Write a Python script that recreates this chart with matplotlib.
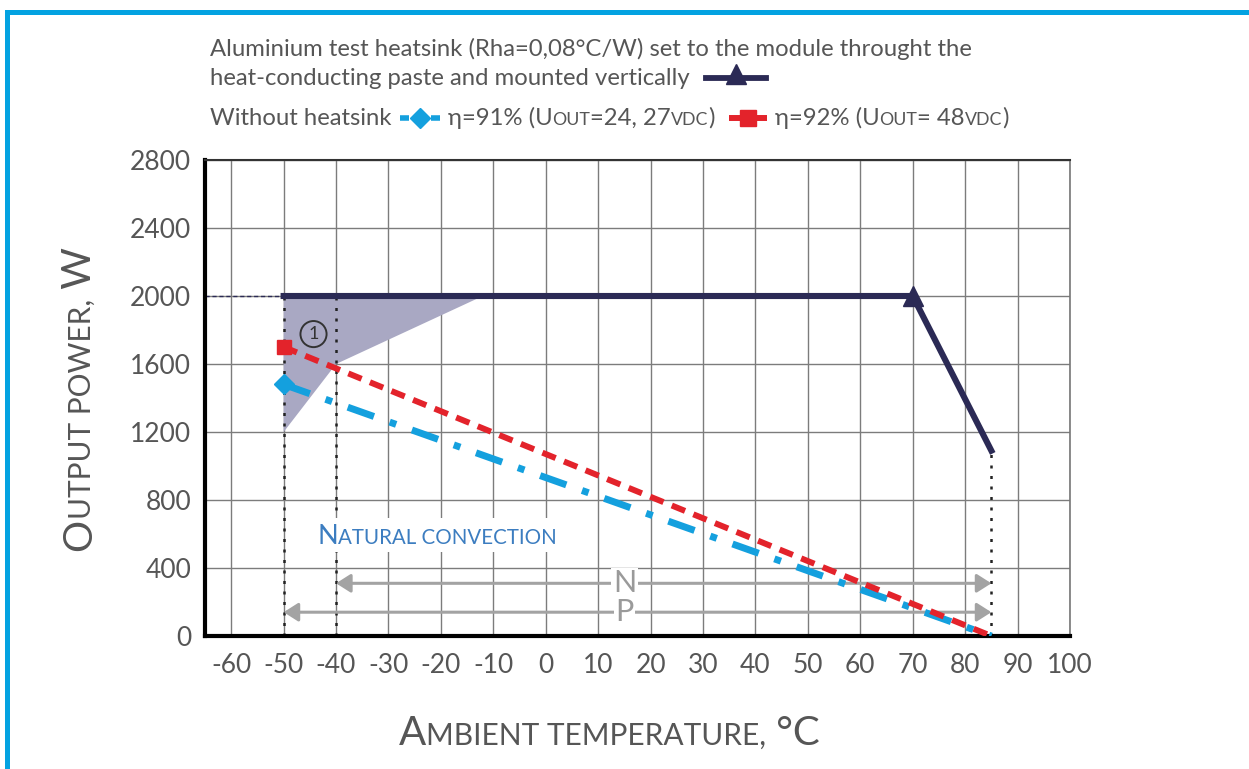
import matplotlib
matplotlib.use("Agg")
import matplotlib.pyplot as plt
from matplotlib.lines import Line2D
from matplotlib.patches import Polygon, Rectangle

# ---------------- data ----------------
temp_heatsink = [-50, 70, 85]
power_heatsink = [2000, 2000, 1090]
temp_eta91 = [-50, 85]
power_eta91 = [1480, 0]
temp_eta92 = [-50, 85]
power_eta92 = [1700, 0]
zone_temp = [-50, -12, -40, -50]
zone_power = [2000, 2000, 1600, 1200]
x_ticks = [-60, -50, -40, -30, -20, -10, 0, 10, 20, 30, 40, 50, 60, 70, 80, 90, 100]
x_tick_labels = ["-60", "-50", "-40", "-30", "-20", "-10", "0", "10", "20", "30",
                 "40", "50", "60", "70", "80", "90", "100"]
y_ticks = [0, 400, 800, 1200, 1600, 2000, 2400, 2800]
y_tick_labels = ["0", "400", "800", "1200", "1600", "2000", "2400", "2800"]
range_N = [-40, 85]
range_P = [-50, 85]
level_N = 310
level_P = 140

# ---------------- style ----------------
NAVY = "#2B2A55"
BLUE = "#14A0DE"
RED = "#E3232B"
SHADE = "#A9A8C3"
GRID = "#7C7C7C"
TXT = "#565656"
CONV = "#3C7DC0"
ARROW = "#A3A3A3"
FRAME = "#03A2E1"
FAM = ["Lato", "DejaVu Sans"]

W_PX, H_PX = 1249, 769
fig = plt.figure(figsize=(W_PX / 100, H_PX / 100), dpi=100)
fig.patch.set_facecolor("white")

# blue frame (top and left)
fig.add_artist(Rectangle((5 / W_PX, 1 - 15 / H_PX), 1, 5 / H_PX,
                         transform=fig.transFigure, color=FRAME, lw=0))
fig.add_artist(Rectangle((5 / W_PX, 0), 5 / W_PX, 1 - 10 / H_PX,
                         transform=fig.transFigure, color=FRAME, lw=0))

ax = fig.add_axes([205 / W_PX, 1 - 636 / H_PX, 865 / W_PX, 476 / H_PX])
ax.set_xlim(-65, 100)
ax.set_ylim(0, 2800)
ax.set_xticks(x_ticks)
ax.set_xticklabels(x_tick_labels)
ax.set_yticks(y_ticks)
ax.set_yticklabels(y_tick_labels)
ax.tick_params(length=0, labelsize=19, colors=TXT)
ax.tick_params(axis="y", pad=10)
ax.tick_params(axis="x", pad=12)
for lab in ax.get_xticklabels() + ax.get_yticklabels():
    lab.set_family(FAM)
ax.grid(True, color=GRID, lw=1.0, zorder=0)
ax.set_axisbelow(True)
ax.spines["left"].set_linewidth(3)
ax.spines["left"].set_color("black")
ax.spines["bottom"].set_linewidth(3)
ax.spines["bottom"].set_color("black")
ax.spines["top"].set_linewidth(1.5)
ax.spines["top"].set_color("#333333")
ax.spines["right"].set_linewidth(1.2)
ax.spines["right"].set_color("#777777")

# shaded zone
ax.add_patch(Polygon(list(zip(zone_temp, zone_power)), closed=True,
                     facecolor=SHADE, edgecolor="none", zorder=1))

# dotted guides
dot_style = dict(color="#222222", lw=1.8, linestyle=(0, (1.2, 3.0)), zorder=2)
ax.plot([temp_heatsink[0], temp_heatsink[0]], [0, power_heatsink[0]], **dot_style)
ax.plot([range_N[0], range_N[0]], [0, power_heatsink[0]], **dot_style)
ax.plot([temp_heatsink[-1], temp_heatsink[-1]], [0, power_heatsink[-1]], **dot_style)
ax.plot([-65, temp_heatsink[0]], [power_heatsink[0], power_heatsink[0]],
        color=NAVY, lw=1.0, linestyle=(0, (3, 2)), zorder=2)

# arrows N / P
for rng, lvl, lab in [(range_N, level_N, "N"), (range_P, level_P, "P")]:
    ax.annotate("", xy=(rng[1], lvl), xytext=(rng[0], lvl),
                arrowprops=dict(arrowstyle="<|-|>,head_length=0.55,head_width=0.35",
                                color=ARROW, lw=2.2, mutation_scale=16,
                                shrinkA=0, shrinkB=0), zorder=3)
    ax.text(15, lvl, lab, ha="center", va="center", fontsize=22, color="#9A9A9A",
            family=FAM, zorder=4,
            bbox=dict(boxstyle="square,pad=0.05", fc="white", ec="none"))

# data lines
ax.plot(temp_eta91, power_eta91, color=BLUE, lw=5, linestyle=(0, (4, 2.4, 1, 2.4)),
        solid_capstyle="butt", zorder=5)
ax.plot(temp_eta91[:1], power_eta91[:1], marker="D", ms=10, color=BLUE, lw=0, zorder=6)
ax.plot(temp_eta92, power_eta92, color=RED, lw=4.3, linestyle=(0, (2.4, 1.5)),
        zorder=6)
ax.plot(temp_eta92[:1], power_eta92[:1], marker="s", ms=10, color=RED, lw=0, zorder=7)
ax.plot(temp_heatsink, power_heatsink, color=NAVY, lw=4.4, zorder=7,
        solid_joinstyle="miter")
ax.plot(temp_heatsink[1:2], power_heatsink[1:2], marker="^", ms=15, color=NAVY,
        lw=0, zorder=8)

# circled 1
ax.text(-44.3, 1776, "1", ha="center", va="center", fontsize=13, color="#333333",
        family=FAM, zorder=8,
        bbox=dict(boxstyle="circle,pad=0.28", fc="none", ec="#333333", lw=1.4))

# ---------------- rich text helper ----------------
renderer = fig.canvas.get_renderer()


def rich(x, y, pieces, color=TXT, rotation=0, align="left", zorder=10):
    """x, y in image pixels (origin top-left). Returns end coordinate (px)."""
    lengths = []
    for s, size in pieces:
        t = fig.text(0, 0, s, fontsize=size, family=FAM, rotation=rotation,
                     rotation_mode="anchor")
        bb = t.get_window_extent(renderer)
        lengths.append(bb.width if rotation == 0 else bb.height)
        t.remove()
    total = sum(lengths)
    if rotation == 0:
        pos = x - total / 2 if align == "center" else x
        for (s, size), L in zip(pieces, lengths):
            fig.text(pos / W_PX, 1 - y / H_PX, s, fontsize=size, family=FAM,
                     color=color, ha="left", va="baseline", zorder=zorder)
            pos += L
        return pos
    pos = (H_PX - y) - total / 2
    for (s, size), L in zip(pieces, lengths):
        fig.text(x / W_PX, pos / H_PX, s, fontsize=size, family=FAM, color=color,
                 rotation=90, rotation_mode="anchor", ha="left", va="baseline",
                 zorder=zorder)
        pos += L
    return pos


# axis labels (small caps)
rich(609, 745, [("A", 29), ("MBIENT TEMPERATURE,", 21.5), (" °C", 29)], align="center")
rich(91, 399, [("O", 29), ("UTPUT POWER,", 21.5), (" W", 29)], rotation=90)

# natural convection label
fig.add_artist(Rectangle((310 / W_PX, 1 - 552 / H_PX), 256 / W_PX, 34 / H_PX,
                         transform=fig.transFigure, color="white", lw=0, zorder=9))
rich(437, 544, [("N", 19.5), ("ATURAL CONVECTION", 14.8)], color=CONV, align="center")

# ---------------- legend block ----------------
LS = 17.2
SC = 12.8
rich(210, 56, [("Aluminium test heatsink (Rha=0,08°C/W) set to the module throught the", LS)])
end2 = rich(210, 85, [("heat-conducting paste and mounted vertically", LS)])


def fig_line(xs, ys, **kw):
    fig.add_artist(Line2D([v / W_PX for v in xs], [1 - v / H_PX for v in ys],
                          transform=fig.transFigure, **kw))


# navy legend sample
lx = end2 + 16
fig_line([lx, lx + 60], [78, 78], color=NAVY, lw=4.2)
fig_line([lx + 30], [74], color=NAVY, marker="^", ms=15, lw=0)

end3 = rich(210, 125, [("Without heatsink", LS)])
bx = end3 + 8
fig_line([bx, bx + 9], [118, 118], color=BLUE, lw=4, solid_capstyle="butt")
fig_line([bx + 31, bx + 40], [118, 118], color=BLUE, lw=4, solid_capstyle="butt")
fig_line([bx + 20], [118], color=BLUE, marker="D", ms=10, lw=0)
end4 = rich(bx + 48, 125, [("η=91% (U", LS), ("OUT", SC), ("=24, 27", LS), ("VDC", SC), (")", LS)])
rx = end4 + 14
fig_line([rx, rx + 38], [118, 118], color=RED, lw=4.3, solid_capstyle="butt")
fig_line([rx + 19], [118], color=RED, marker="s", ms=11, lw=0)
rich(rx + 46, 125, [("η=92% (U", LS), ("OUT", SC), ("= 48", LS), ("VDC", SC), (")", LS)])

fig.savefig("out.png", dpi=100)
